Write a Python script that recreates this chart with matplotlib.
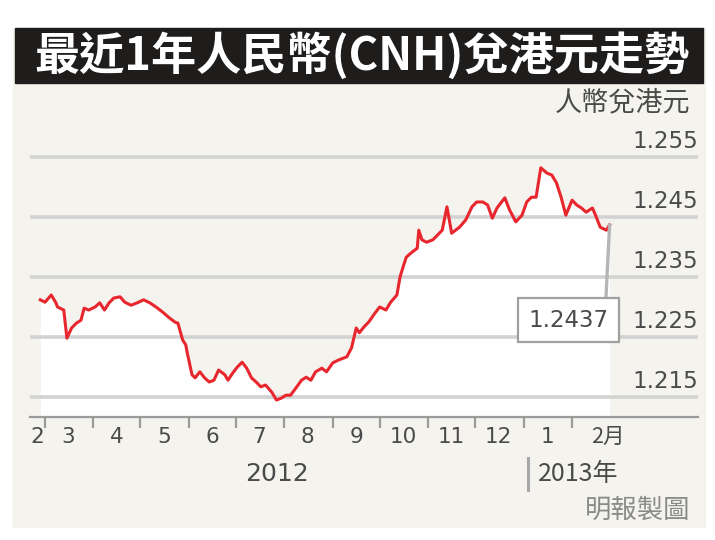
import numpy as np
import matplotlib
matplotlib.use('Agg')
import matplotlib.pyplot as plt
import matplotlib.dates as mdates
import matplotlib.transforms as mtransforms
from matplotlib.patches import Rectangle

# CNH / HKD (roughly every 3-4 days)
dates = [
    '2012-02-27', '2012-03-01', '2012-03-05', '2012-03-08', '2012-03-09', '2012-03-13',
    '2012-03-15', '2012-03-18', '2012-03-21', '2012-03-24', '2012-03-26', '2012-03-29',
    '2012-04-02', '2012-04-05', '2012-04-08', '2012-04-11', '2012-04-14', '2012-04-18',
    '2012-04-21', '2012-04-25', '2012-04-29', '2012-05-03', '2012-05-07', '2012-05-11',
    '2012-05-15', '2012-05-19', '2012-05-23', '2012-05-25', '2012-05-28', '2012-05-30',
    '2012-05-31', '2012-06-03', '2012-06-05', '2012-06-08', '2012-06-11', '2012-06-14',
    '2012-06-17', '2012-06-20', '2012-06-24', '2012-06-26', '2012-06-29', '2012-07-02',
    '2012-07-05', '2012-07-08', '2012-07-11', '2012-07-14', '2012-07-17', '2012-07-20',
    '2012-07-24', '2012-07-27', '2012-07-30', '2012-08-02', '2012-08-05', '2012-08-09',
    '2012-08-12', '2012-08-15', '2012-08-18', '2012-08-21', '2012-08-25', '2012-08-28',
    '2012-09-01', '2012-09-05', '2012-09-10', '2012-09-13', '2012-09-16', '2012-09-18',
    '2012-09-21', '2012-09-24', '2012-09-28', '2012-10-01', '2012-10-05', '2012-10-08',
    '2012-10-12', '2012-10-14', '2012-10-16', '2012-10-18', '2012-10-21', '2012-10-25',
    '2012-10-26', '2012-10-28', '2012-10-31', '2012-11-04', '2012-11-07', '2012-11-10',
    '2012-11-13', '2012-11-16', '2012-11-21', '2012-11-25', '2012-11-29', '2012-12-02',
    '2012-12-06', '2012-12-09', '2012-12-12', '2012-12-15', '2012-12-20', '2012-12-23',
    '2012-12-27', '2012-12-31', '2013-01-03', '2013-01-06', '2013-01-09', '2013-01-12',
    '2013-01-16', '2013-01-19', '2013-01-22', '2013-01-25', '2013-01-28', '2013-02-01',
    '2013-02-04', '2013-02-07', '2013-02-10', '2013-02-14', '2013-02-16', '2013-02-19',
    '2013-02-23', '2013-02-25',
]
rates = [
    1.2312, 1.2308, 1.2320, 1.2307, 1.2300, 1.2295,
    1.2248, 1.2265, 1.2273, 1.2278, 1.2298, 1.2295,
    1.2300, 1.2307, 1.2295, 1.2307, 1.2315, 1.2317,
    1.2308, 1.2303, 1.2307, 1.2312, 1.2307, 1.2300,
    1.2292, 1.2283, 1.2275, 1.2273, 1.2245, 1.2237,
    1.2223, 1.2187, 1.2182, 1.2192, 1.2182, 1.2175,
    1.2178, 1.2195, 1.2187, 1.2178, 1.2190, 1.2200,
    1.2208, 1.2198, 1.2182, 1.2175, 1.2167, 1.2170,
    1.2158, 1.2145, 1.2148, 1.2153, 1.2153, 1.2167,
    1.2178, 1.2183, 1.2178, 1.2192, 1.2198, 1.2192,
    1.2207, 1.2212, 1.2217, 1.2232, 1.2265, 1.2257,
    1.2267, 1.2275, 1.2290, 1.2300, 1.2295, 1.2308,
    1.2320, 1.2350, 1.2367, 1.2383, 1.2390, 1.2398,
    1.2428, 1.2412, 1.2408, 1.2412, 1.2420, 1.2428,
    1.2467, 1.2423, 1.2433, 1.2445, 1.2467, 1.2475,
    1.2475, 1.2470, 1.2448, 1.2465, 1.2482, 1.2462,
    1.2442, 1.2453, 1.2475, 1.2483, 1.2483, 1.2532,
    1.2523, 1.2520, 1.2507, 1.2483, 1.2453, 1.2478,
    1.2470, 1.2465, 1.2458, 1.2465, 1.2453, 1.2433,
    1.2428, 1.2437,
]
y_ticks = [1.215, 1.225, 1.235, 1.245, 1.255]
month_labels = ['2', '3', '4', '5', '6', '7', '8', '9', '10', '11', '12', '1', '2月']
year_labels = ['2012', '2013年']
last_label = '1.2437'

title = '最近1年人民幣(CNH)兌港元走勢'
unit = '人幣兌港元'
credit = '明報製圖'

cjk = ['Noto Sans CJK TC', 'DejaVu Sans']
grey = '#4a4a4a'

x = mdates.date2num(np.array(dates, dtype='datetime64[D]'))

fig = plt.figure(figsize=(7.15, 5.40), dpi=100)
W, H = 715, 540

# beige panel and black title bar (behind the axes)
fig.patches.append(Rectangle((13 / W, 1 - 527 / H), 692 / W, 499 / H,
                             transform=fig.transFigure, color='#f5f3ee', zorder=-3))
fig.patches.append(Rectangle((15 / W, 1 - 83 / H), 688 / W, 55 / H,
                             transform=fig.transFigure, color='#1f1c1c', zorder=-2))
fig.text(362 / W, 1 - 56 / H, title, color='white', fontsize=32.5, fontweight='bold',
         family=cjk, ha='center', va='center')

ax = fig.add_axes([30 / W, 1 - 417 / H, 668 / W, 287 / H])
ax.set_facecolor('none')

px_per_day = 1.564
x_left = mdates.date2num(np.datetime64('2012-03-01')) - 15 / px_per_day
ax.set_xlim(x_left, x_left + 668 / px_per_day)
y_bottom = 1.21167
ax.set_ylim(y_bottom, 1.2595)

for s in ['top', 'left', 'right']:
    ax.spines[s].set_visible(False)
ax.spines['bottom'].set_color('#9a9a9a')
ax.spines['bottom'].set_linewidth(1.6)
ax.set_yticks([])

month_starts = np.arange('2012-02', '2013-03', dtype='datetime64[M]').astype('datetime64[D]')
ax.set_xticks(mdates.date2num(month_starts[1:]))
ax.set_xticklabels([])
ax.tick_params(axis='x', direction='out', length=8, width=1.6, color='#9a9a9a')

# gridlines and y labels above each line
trans_y = mtransforms.blended_transform_factory(ax.transAxes, ax.transData)
lab_trans = mtransforms.offset_copy(trans_y, fig=fig, y=3, units='points')
for v in y_ticks:
    ax.axhline(v, color='#d2d2d2', lw=2.6, zorder=2)
    ax.text(1.0, v, f'{v:.3f}', transform=lab_trans, ha='right', va='bottom',
            fontsize=16.5, color=grey)

ax.fill_between(x, rates, y_bottom, color='white', lw=0, zorder=1)
ax.plot(x, rates, color='#e8262d', lw=2.2, zorder=3)

ax.annotate(last_label, xy=(x[-1], rates[-1]), xytext=(-1, -84),
            textcoords='offset pixels', ha='right', va='top', fontsize=16.5, color=grey,
            bbox=dict(boxstyle='square,pad=0.45', fc='white', ec='#a0a0a0', lw=1.6),
            arrowprops=dict(arrowstyle='-', color='#b5b5b5', lw=2.4,
                            relpos=(0.96, 1), shrinkA=0, shrinkB=0),
            zorder=4)

# month labels under the axis
trans_x = mtransforms.blended_transform_factory(ax.transData, ax.transAxes)
month_num = mdates.date2num(month_starts)
month_end = np.append(month_num[1:], x[-1])
for i, lab in enumerate(month_labels):
    a = max(month_num[i], x_left)
    b = min(month_num[i] + 30, month_end[i])
    if i == len(month_labels) - 1:
        ax.text((a + b) / 2, -0.07, lab, transform=trans_x, ha='left', va='center',
                fontsize=15.5, color=grey, family=cjk)
    else:
        ax.text((a + b) / 2, -0.07, lab, transform=trans_x, ha='center', va='center',
                fontsize=15.5, color=grey)

jan = mdates.date2num(np.datetime64('2013-01-01'))
ax.text((x_left + jan) / 2, -0.2, year_labels[0], transform=trans_x, ha='center',
        va='center', fontsize=18, color=grey)
div_trans = mtransforms.offset_copy(trans_x, fig=fig, x=3.5, units='points')
ax.plot([jan, jan], [-0.143, -0.255], transform=div_trans, color='#a8a8a8', lw=2.2,
        clip_on=False)
yr_trans = mtransforms.offset_copy(trans_x, fig=fig, x=10, units='points')
ax.text(jan, -0.2, year_labels[1], transform=yr_trans, ha='left', va='center',
        fontsize=18, color=grey, family=cjk)

fig.text(690 / W, 1 - 103 / H, unit, ha='right', va='center', fontsize=19.5,
         color=grey, family=cjk)
fig.text(690 / W, 1 - 510 / H, credit, ha='right', va='center', fontsize=19,
         color='#8a8a8a', family=cjk)

fig.savefig('out.png', dpi=100)
